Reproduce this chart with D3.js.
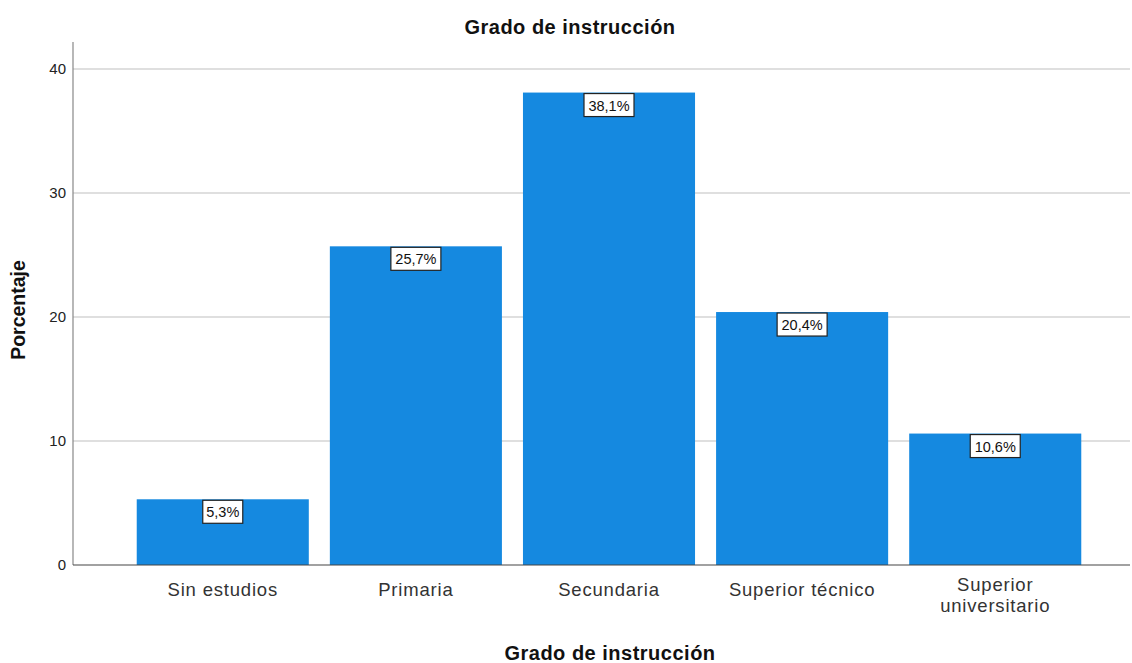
<!DOCTYPE html>
<html><head><meta charset="utf-8">
<script src="https://cdn.jsdelivr.net/npm/d3@7"></script>
<style>body{margin:0;background:#fff;font-family:"Liberation Sans",Arial,sans-serif}</style>
</head><body><svg id="c" width="1132" height="663"></svg>
<script>
const categories = ["Sin estudios","Primaria","Secundaria","Superior técnico","Superior universitario"];
const values = [5.3, 25.7, 38.1, 20.4, 10.6];
const labels = ["5,3%","25,7%","38,1%","20,4%","10,6%"];
const yTicks = [0,10,20,30,40];

const svg = d3.select("#c");
const x0 = 73, yBase = 565;
const y = d3.scaleLinear().domain([0,40]).range([yBase,69]);
const x = d3.scaleBand().domain(categories).range([x0,1145]).paddingInner(0.109).paddingOuter(0.33);

// gridlines
svg.append("g").selectAll("line").data(yTicks.filter(d=>d>0)).join("line")
  .attr("x1",x0).attr("x2",1130).attr("y1",d=>y(d)).attr("y2",d=>y(d))
  .attr("stroke","#d4d4d4").attr("stroke-width",1.5);

// y axis
const ya = svg.append("g").attr("transform",`translate(${x0},0)`)
  .call(d3.axisLeft(y).tickValues(yTicks).tickSize(0).tickPadding(7));
ya.attr("font-size",null).attr("font-family",null);
ya.select(".domain").remove();
ya.selectAll("text").style("font-size","15px").style("font-family","Liberation Sans, Arial").attr("fill","#222");
svg.append("line").attr("x1",x0).attr("x2",x0).attr("y1",42).attr("y2",yBase).attr("stroke","#888").attr("stroke-width",1.2);

// bars
svg.append("g").selectAll("rect").data(values).join("rect")
  .attr("x",(d,i)=>x(categories[i])).attr("width",x.bandwidth())
  .attr("y",d=>y(d)).attr("height",d=>yBase-y(d)).attr("fill","#1589e0");

// baseline
svg.append("line").attr("x1",x0).attr("x2",1130).attr("y1",yBase).attr("y2",yBase).attr("stroke","#444").attr("stroke-width",1.2);

// value labels
const lg = svg.append("g").selectAll("g").data(values).join("g")
  .attr("transform",(d,i)=>`translate(${x(categories[i])+x.bandwidth()/2},${y(d)})`);
lg.append("rect").attr("x",(d,i)=>labels[i].length>4?-25:-20).attr("width",(d,i)=>labels[i].length>4?50:40)
  .attr("y",1).attr("height",23).attr("fill","#fff").attr("stroke","#222").attr("stroke-width",1.2);
lg.append("text").attr("y",18).attr("text-anchor","middle").attr("font-size",14.5).attr("fill","#111")
  .text((d,i)=>labels[i]);

// x category labels
const xl = svg.append("g").selectAll("text").data(categories).join("text")
  .attr("x",d=>x(d)+x.bandwidth()/2).attr("y",d=>d==="Superior universitario"?591:596).attr("text-anchor","middle")
  .attr("font-size",18.5).attr("letter-spacing",0.8).attr("fill","#333");
xl.each(function(d){
  const t = d3.select(this);
  const parts = d==="Superior universitario" ? ["Superior","universitario"] : [d];
  parts.forEach((p,k)=>t.append("tspan").attr("x",x(d)+x.bandwidth()/2).attr("dy",k?21:0).text(p));
});

// titles
svg.append("text").attr("x",570).attr("y",34).attr("text-anchor","middle").attr("font-size",20).attr("letter-spacing",0.5).attr("font-weight","bold").attr("fill","#111").text("Grado de instrucción");
svg.append("text").attr("x",610).attr("y",660).attr("text-anchor","middle").attr("font-size",20).attr("letter-spacing",0.5).attr("font-weight","bold").attr("fill","#111").text("Grado de instrucción");
svg.append("text").attr("transform","translate(25,310) rotate(-90)").attr("text-anchor","middle").attr("font-size",19.5).attr("font-weight","bold").attr("fill","#111").text("Porcentaje");
</script></body></html>
